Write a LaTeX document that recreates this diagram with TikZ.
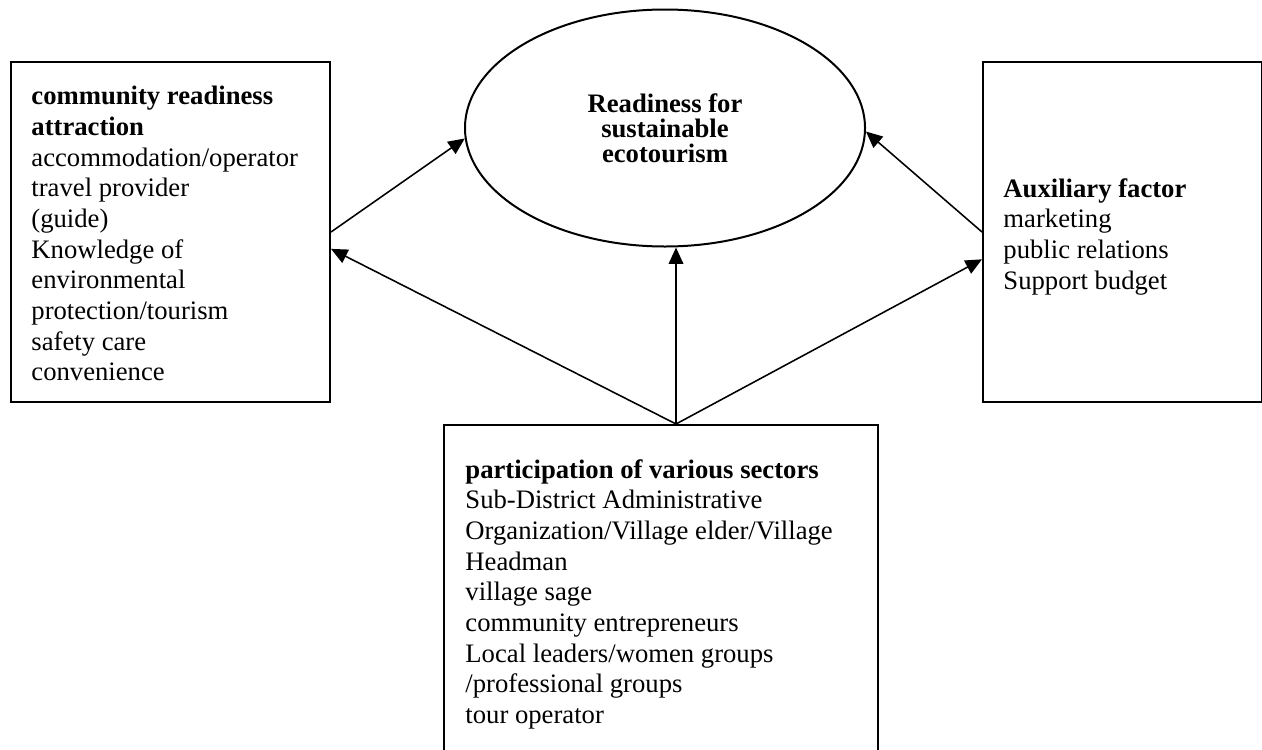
\documentclass[tikz,border=0pt]{standalone}
\usepackage{fontspec}
\setmainfont{Liberation Serif}
\usetikzlibrary{arrows.meta,shapes.geometric}
\begin{document}
\begin{tikzpicture}[x=0.45pt,y=-0.45pt,
  box/.style={draw,line width=0.9pt,rectangle,inner sep=0pt,anchor=north west},
  txt/.style={inner sep=0pt,anchor=north west,align=left,font=\fontsize{12pt}{13.8pt}\selectfont},
  conn/.style={line width=0.7pt,-{Triangle[length=7.4pt,width=6.6pt]}}]
\useasboundingbox (0,0) rectangle (1262,749);
% boxes
\node[box,minimum width=143.55pt,minimum height=153pt] (lbox) at (10,61) {};
\node[box,minimum width=125.55pt,minimum height=153pt] (rbox) at (982,61) {};
\node[box,minimum width=195.3pt,minimum height=160pt] (bbox) at (443,424) {};
% ellipse
\node[ellipse,draw,line width=0.9pt,inner sep=0pt,minimum width=180pt,minimum height=106.65pt,
  align=center,font=\bfseries\fontsize{12pt}{11.25pt}\selectfont] (ell) at (665,128)
  {Readiness for\\sustainable\\ecotourism};
% texts
\node[txt] (ltxt) at (31,86) {\textbf{community readiness}\\\textbf{attraction}\\accommodation/operator\\travel provider\\(guide)\\Knowledge of\\environmental\\protection/tourism\\safety care\\convenience};
\node[txt] (rtxt) at (1003,178) {\textbf{Auxiliary factor}\\marketing\\public relations\\Support budget};
\node[txt] (btxt) at (465,459) {\textbf{participation of various sectors}\\Sub-District Administrative\\Organization/Village elder/Village\\Headman\\village sage\\community entrepreneurs\\Local leaders/women groups\\/professional groups\\tour operator};
% connectors
\coordinate (apex) at (676,424);
\draw[conn] (lbox.east) -- (ell.183);
\draw[conn] (rbox.west) -- (ell.-1.5);
\draw[conn] (apex) -- (apex |- ell.south);
\draw[conn] (apex) -- (lbox.-6.8);
\draw[conn] (apex) -- (rbox.191);
\end{tikzpicture}
\end{document}
